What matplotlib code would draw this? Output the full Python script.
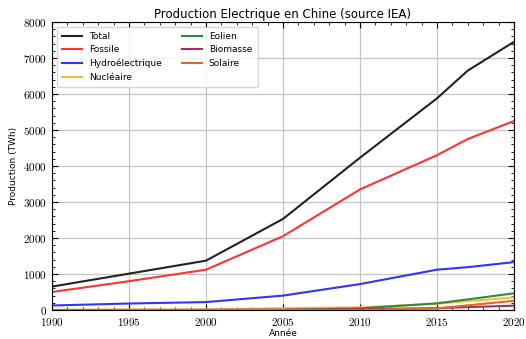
import matplotlib
matplotlib.use("Agg")
import matplotlib.pyplot as plt
from matplotlib.ticker import MultipleLocator, FuncFormatter

years = [1990, 1995, 2000, 2005, 2010, 2015, 2017, 2020]
total = [650, 1010, 1370, 2530, 4230, 5880, 6650, 7450]
fossile = [500, 800, 1120, 2050, 3350, 4300, 4750, 5250]
hydro = [125, 180, 220, 400, 720, 1120, 1190, 1330]
nucleaire = [0, 13, 17, 53, 74, 171, 248, 350]
eolien = [0, 0, 1, 2, 45, 185, 295, 465]
biomasse = [0, 0, 2, 5, 25, 50, 80, 120]
solaire = [0, 0, 0, 0, 1, 45, 130, 255]

series = [
    ("Total", total, "#222222"),
    ("Fossile", fossile, "#ff3333"),
    ("Hydroélectrique", hydro, "#3333ff"),
    ("Nucléaire", nucleaire, "#ffb833"),
    ("Eolien", eolien, "#2e8b3e"),
    ("Biomasse", biomasse, "#a0305f"),
    ("Solaire", solaire, "#e06a20"),
]

plt.rcParams["mathtext.fontset"] = "cm"
fig = plt.figure(figsize=(5.26, 3.39), dpi=100)
ax = fig.add_axes([52/526, 1 - 310/339, (514-52)/526, (310-22)/339])

for name, vals, col in series:
    ax.plot(years, vals, color=col, lw=1.5, label=name)

ax.set_xlim(1990, 2020)
ax.set_ylim(0, 8000)
ax.xaxis.set_major_locator(MultipleLocator(5))
ax.xaxis.set_minor_locator(MultipleLocator(1))
ax.yaxis.set_major_locator(MultipleLocator(1000))
ax.yaxis.set_minor_locator(MultipleLocator(200))
fmt = FuncFormatter(lambda v, p: r"$%d$" % int(round(v)))
ax.xaxis.set_major_formatter(fmt)
ax.yaxis.set_major_formatter(fmt)
ax.tick_params(which="both", direction="in", top=True, right=True, labelsize=8)
ax.tick_params(which="major", length=4)
ax.tick_params(which="minor", length=2)
ax.tick_params(axis="x", which="major", pad=4)
ax.grid(True, which="major", color="#c4c4c4", lw=0.9)
ax.set_axisbelow(True)

ax.set_title("Production Electrique en Chine (source IEA)", fontsize=8.5, pad=3)
ax.set_xlabel("Année", fontsize=6.5, labelpad=1)
ax.set_ylabel("Production (TWh)", fontsize=6.5, labelpad=4)

ax.legend(loc="upper left", ncol=2, fontsize=6.5, framealpha=0.8,
          handlelength=2.2, columnspacing=2.2, borderpad=0.6, labelspacing=0.5)

fig.savefig("out.png", dpi=100)
